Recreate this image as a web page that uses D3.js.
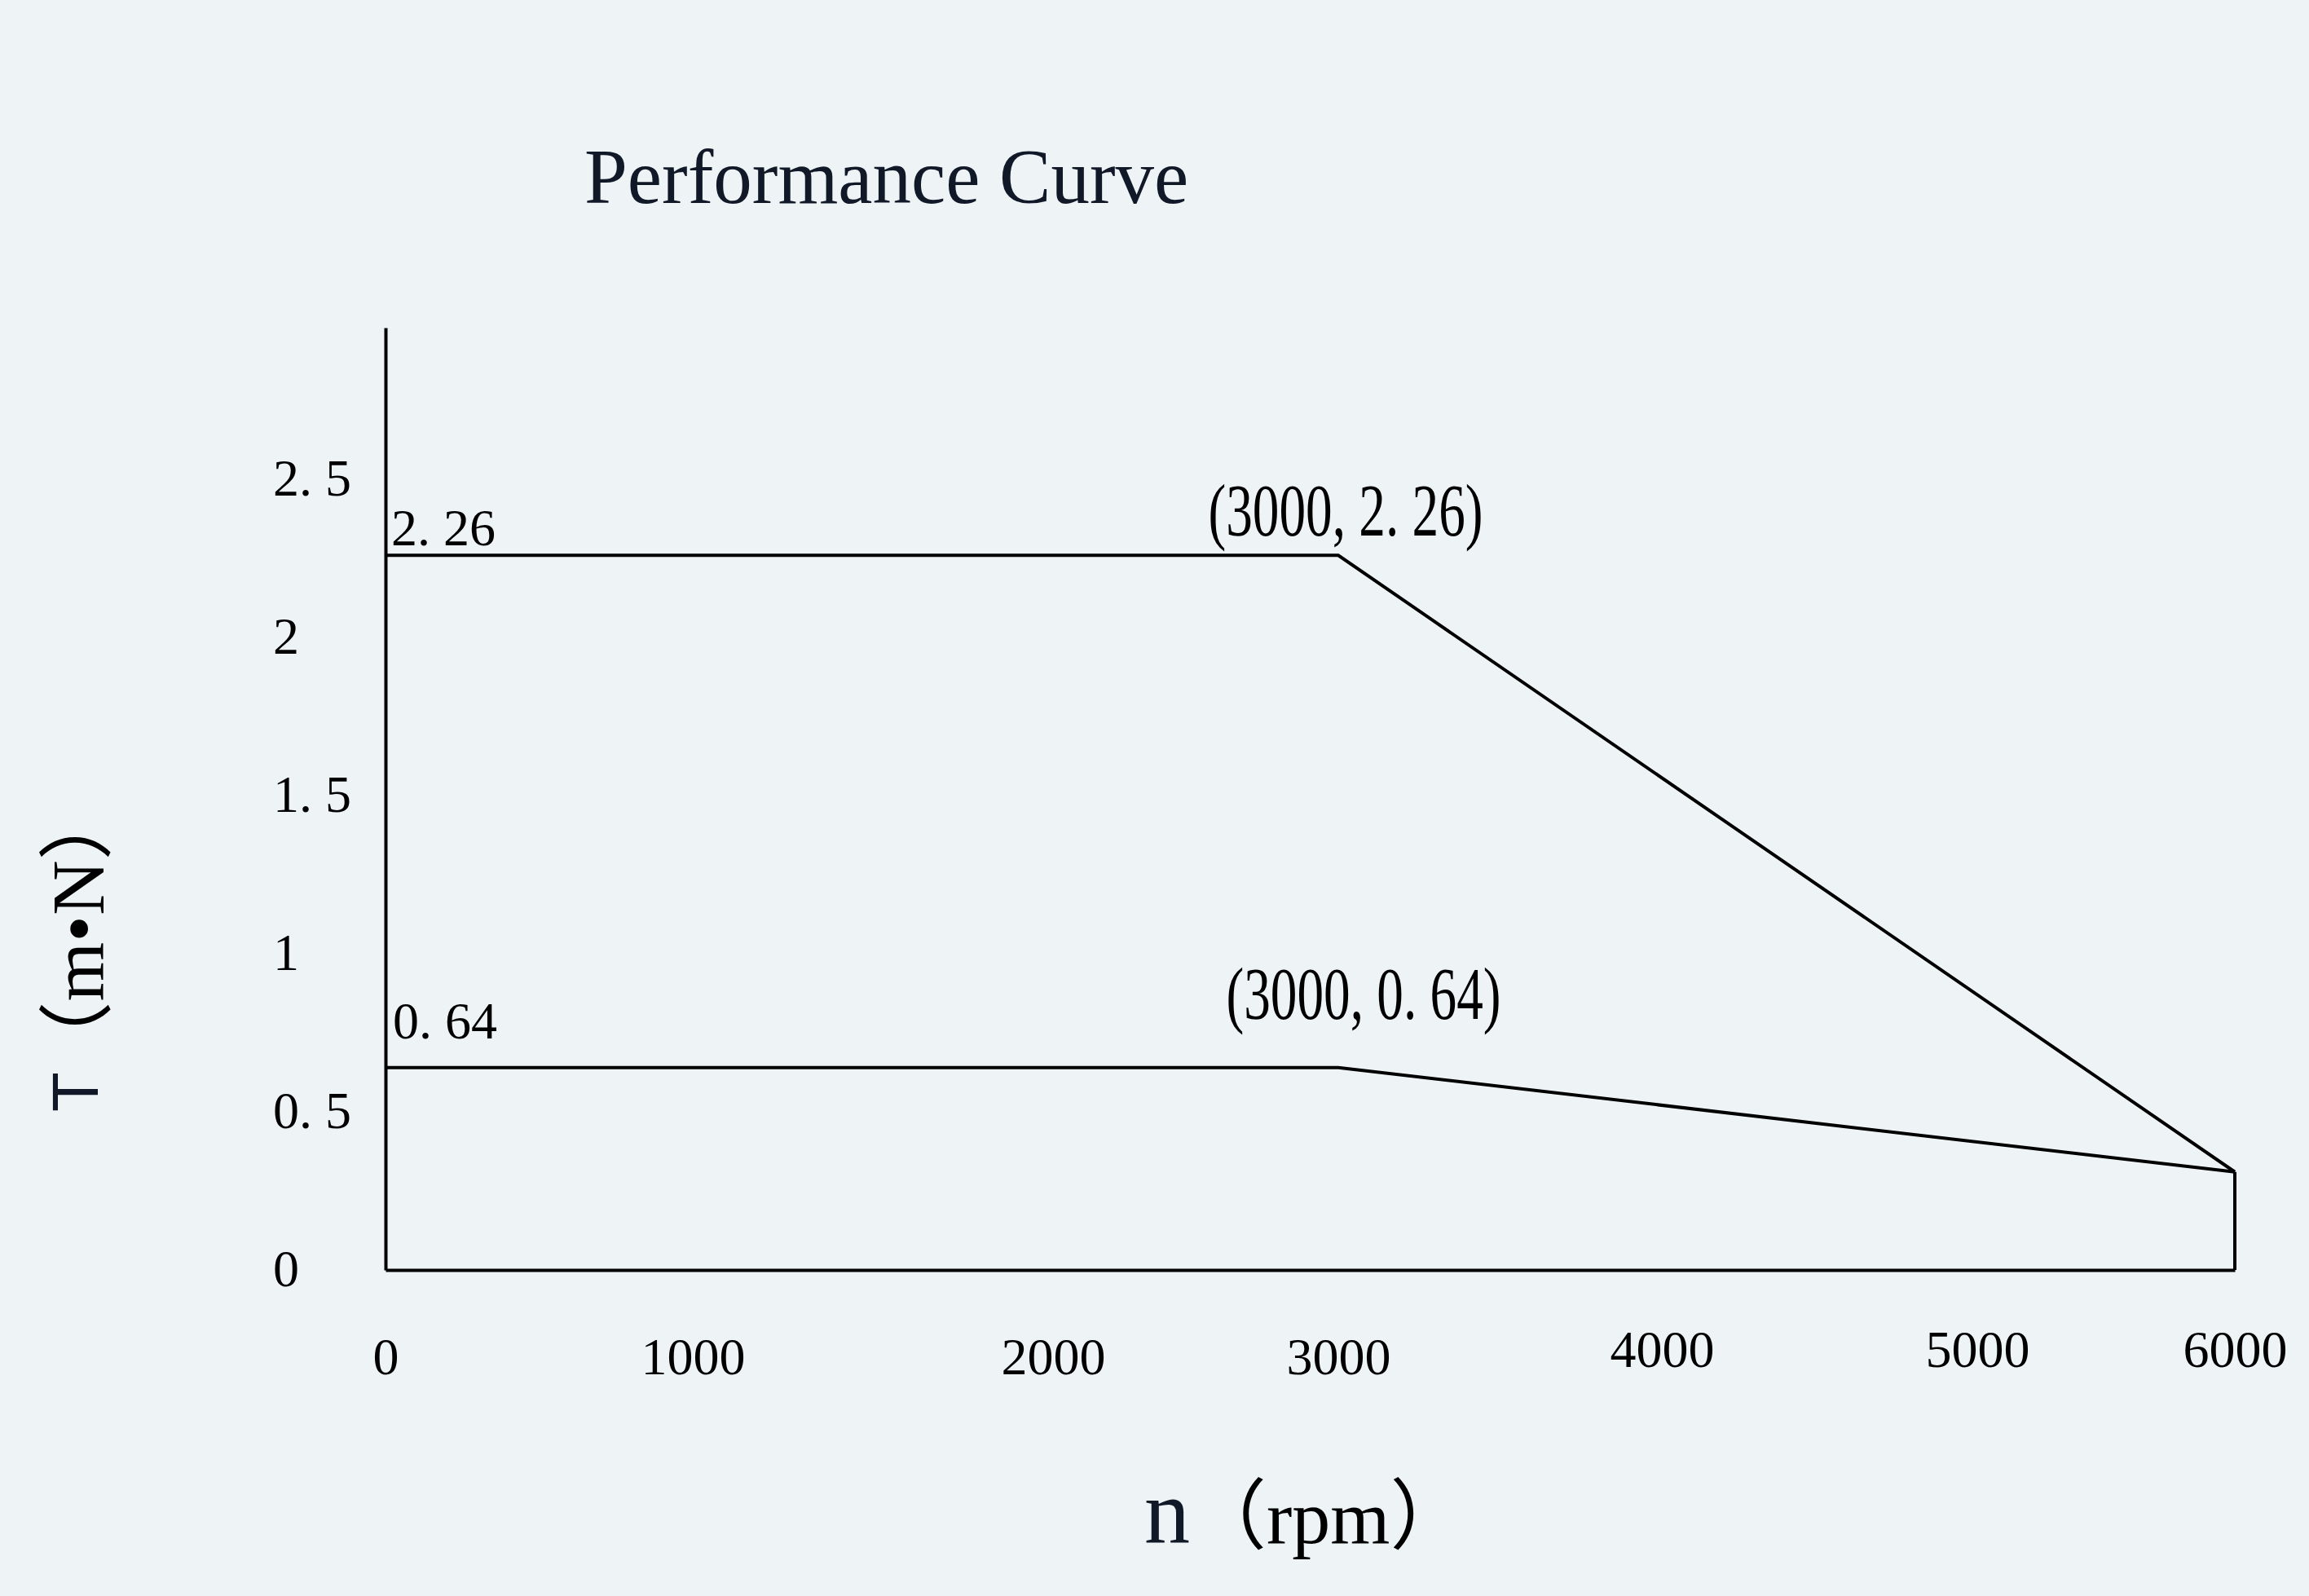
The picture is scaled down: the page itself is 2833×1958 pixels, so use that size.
<!DOCTYPE html>
<html>
<head>
<meta charset="utf-8">
<script src="https://cdn.jsdelivr.net/npm/d3@7/dist/d3.min.js"></script>
<style>
  html, body { margin: 0; padding: 0; background: #EEF3F6; }
  svg { display: block; }
</style>
</head>
<body>
<svg id="chart" width="2833" height="1958"></svg>
<script>
// ---- data ----
const xTicks = [0, 1000, 2000, 3000, 4000, 5000, 6000];
const yTicks = [0, 0.5, 1, 1.5, 2, 2.5];
const speed = [0, 3000, 6000];            // n (rpm)
const peakTorque = [2.26, 2.26, 0.31];    // upper curve T
const ratedTorque = [0.64, 0.64, 0.31];   // lower curve T
const titleText = "Performance Curve";

// ---- layout ----
const W = 2833, H = 1958;
const xTickPx = [473, 850, 1292, 1642, 2039, 2426, 2742]; // non-uniform axis as drawn in source
const yRange = [1558, 402];
const yMax = 2.98;
const serif = "'Liberation Serif', 'Times New Roman', 'Noto Sans CJK SC', serif";
const navy = "#111827";

const svg = d3.select("#chart");
svg.append("rect").attr("width", W).attr("height", H).attr("fill", "#EEF3F6");

const x = d3.scaleLinear().domain(xTicks).range(xTickPx);
const y = d3.scaleLinear().domain([0, yMax]).range(yRange);

const fmt = v => d3.format("~g")(v).replace(".", ". ");

// title
svg.append("text")
  .attr("x", 717).attr("y", 249)
  .attr("font-family", serif).attr("font-size", 95)
  .attr("fill", navy)
  .text(titleText);

// x axis
const gx = svg.append("g")
  .attr("transform", `translate(0,${y(0)})`)
  .call(d3.axisBottom(x).tickValues(xTicks).tickSize(0).tickSizeOuter(0).tickFormat(d3.format("d")));
gx.select(".domain").attr("stroke", "#000").attr("stroke-width", 4);
gx.selectAll(".tick text")
  .attr("font-family", serif).attr("font-size", 64).attr("fill", "#000")
  .attr("dy", null).attr("y", d => d >= 4000 ? 119 : 128);

// y axis
const gy = svg.append("g")
  .attr("transform", `translate(${x(0)},0)`)
  .call(d3.axisLeft(y).tickValues(yTicks).tickSize(0).tickSizeOuter(0).tickFormat(fmt));
gy.select(".domain").attr("stroke", "#000").attr("stroke-width", 4);
gy.selectAll(".tick text")
  .attr("font-family", serif).attr("font-size", 64).attr("fill", "#000")
  .attr("text-anchor", "start").attr("x", -138).attr("dy", "0.3em");

// curves
const line = d3.line().x(d => x(d[0])).y(d => y(d[1]));
const curves = [
  speed.map((s, i) => [s, peakTorque[i]]),
  speed.map((s, i) => [s, ratedTorque[i]]),
  [[speed[2], 0], [speed[2], ratedTorque[2]]]
];
svg.append("g").selectAll("path").data(curves).join("path")
  .attr("d", line)
  .attr("fill", "none").attr("stroke", "#000").attr("stroke-width", 4)
  .attr("stroke-linejoin", "miter");

// left value labels
svg.append("text")
  .attr("x", x(0) + 7).attr("y", y(peakTorque[0]) - 12)
  .attr("font-family", serif).attr("font-size", 64).attr("fill", "#000")
  .text(fmt(peakTorque[0]));
svg.append("text")
  .attr("x", x(0) + 9).attr("y", y(ratedTorque[0]) - 36)
  .attr("font-family", serif).attr("font-size", 64).attr("fill", "#000")
  .text(fmt(ratedTorque[0]));

// corner annotations (condensed tall digits)
svg.append("text")
  .attr("x", x(speed[1]) + 9).attr("y", y(peakTorque[1]) - 24)
  .attr("text-anchor", "middle")
  .attr("font-family", serif).attr("font-size", 92).attr("fill", "#000")
  .attr("textLength", 337).attr("lengthAdjust", "spacingAndGlyphs")
  .text(`(${speed[1]}, ${fmt(peakTorque[1])})`);
svg.append("text")
  .attr("x", x(speed[1]) + 31).attr("y", y(ratedTorque[1]) - 60)
  .attr("text-anchor", "middle")
  .attr("font-family", serif).attr("font-size", 92).attr("fill", "#000")
  .attr("textLength", 337).attr("lengthAdjust", "spacingAndGlyphs")
  .text(`(${speed[1]}, ${fmt(ratedTorque[1])})`);

// x axis title
const xt = svg.append("text").attr("x", 1404).attr("y", 1893).attr("font-family", serif);
xt.append("tspan").attr("font-size", 112).attr("fill", navy).text("n");
xt.append("tspan").attr("font-size", 94).attr("fill", "#000").text("（rpm）");

// y axis title
svg.append("text")
  .attr("transform", "translate(120,1364) rotate(-90)")
  .attr("font-family", "'Liberation Sans', Arial, sans-serif")
  .attr("font-size", 80).attr("fill", navy).text("T");
svg.append("text")
  .attr("transform", "translate(127,1322) rotate(-90)")
  .attr("font-family", serif)
  .attr("font-size", 92).attr("fill", "#000")
  .attr("textLength", 360).attr("lengthAdjust", "spacingAndGlyphs")
  .text("（m•N）");
</script>
</body>
</html>
